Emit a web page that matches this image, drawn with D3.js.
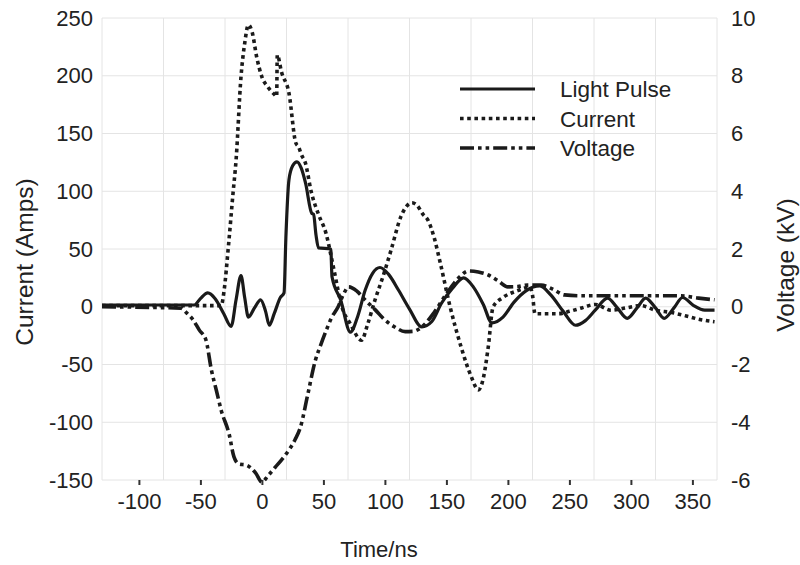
<!DOCTYPE html>
<meta charset="utf-8">
<style>
body { margin: 0; background: #fff; }
text { font-family: "Liberation Sans", Arial, sans-serif; fill: #222; }
.grid line { stroke: #e4e4e4; stroke-width: 1; }
.series { fill: none; stroke: #1a1a1a; }
</style>
<svg id="svg" width="800" height="565"></svg>
<script src="https://d3js.org/d3.v7.min.js"></script>
<script>
// light pulse (plotted on current axis)
var lightT = [-130, -100, -70, -55, -50, -44, -38, -31, -25, -21, -17, -14, -11, -6, -1, 3, 6, 10, 15, 18, 19.5, 22, 25, 28.5, 32, 35.5, 40.5, 42, 44, 46, 56, 57, 64, 72, 78, 84, 90, 96, 103, 111, 120, 130, 138, 146, 155, 164, 172, 180, 187, 196, 205, 215, 226, 235, 245, 255, 263, 271, 281, 289, 297, 305, 312, 320, 327, 335, 342, 351, 360, 368];
var lightI = [1.5, 1.5, 1.5, 1.5, 7, 12, 7, -6, -17, 6, 27, 8, -9, -1, 6, -4, -16, -6, 8, 12, 60, 110, 122, 125.5, 120, 107, 81, 80, 62, 51, 50, 26, 6, -22, -8, 14.5, 29, 34, 28, 14.5, -2, -17.5, -13, 3, 16, 25, 17, 2, -14, -9, 4, 14, 18, 10, -4, -16, -12, -3, 7.5, -1, -10, -1, 7.5, -1, -10, -1, 8, 1, -3, -3];

// current, Amps
var currT = [-130, -60, -33, -31, -27, -23.5, -21, -17, -14, -11, -8, -4, 0, 5, 10, 12, 12.5, 16, 22, 27.5, 30, 32, 35.5, 40, 46, 52, 58, 65, 72, 81, 86, 92, 99, 105, 113, 122, 126, 131, 135, 140, 145, 153, 162, 170, 176, 180, 184, 188, 196, 208, 218, 220, 222, 232, 241, 250, 260, 271, 284, 296, 308, 320, 333, 345, 356, 368];
var currI = [1, 1, 1, 12, 55, 98, 127, 199, 228, 244, 238, 215, 199, 190, 184, 182, 218, 203, 185, 142, 138, 132, 124, 100, 80, 64, 35, 0, -15, -29, -15, 6, 28, 49, 78, 90, 88, 80, 75, 60, 38, 0, -35, -60, -72, -62, -35, 0, 8, 14, 17, 10, -6, -6, -6, -4, -1, 2, -3, -1, 1, -3, -5, -8, -11, -13];

// voltage, kV (right axis)
var voltT = [-130, -66, -61, -56, -51, -45.5, -41, -37, -33, -26.7, -22.7, -18.6, -13, -5, 0, 5, 11, 16, 22, 27, 31.5, 37, 43.5, 48, 52, 57, 62, 66, 70.5, 77, 84, 92, 100, 108, 116.5, 123, 130, 140, 150, 160, 168, 176, 184, 192, 200, 208, 216, 227, 236, 246, 260, 280, 300, 320, 340, 355, 368];
var voltV = [0, -0.05, -0.22, -0.45, -0.8, -1.15, -2.2, -2.9, -3.6, -4.4, -5.2, -5.45, -5.48, -5.76, -6.07, -5.85, -5.55, -5.3, -4.96, -4.6, -4.15, -3.1, -1.85, -1.3, -0.85, -0.35, 0.0, 0.4, 0.69, 0.55, 0.23, -0.1, -0.46, -0.7, -0.86, -0.85, -0.7, -0.2, 0.45, 1.0, 1.24, 1.2, 1.1, 0.9, 0.69, 0.7, 0.75, 0.75, 0.62, 0.41, 0.38, 0.38, 0.38, 0.38, 0.38, 0.3, 0.24];

var xTicks = [-100, -50, 0, 50, 100, 150, 200, 250, 300, 350];
var xGrid = [-130, -80, -30, 20, 70, 120, 170, 220, 270, 320, 370];
var leftTicks = [-150, -100, -50, 0, 50, 100, 150, 200, 250];
var rightTicks = [-6, -4, -2, 0, 2, 4, 6, 8, 10];
var legendNames = ["Light Pulse", "Current", "Voltage"];

var svg = d3.select("svg"),
    margin = {top: 18, right: 83, bottom: 85, left: 102},
    width = +svg.attr("width") - margin.left - margin.right,
    height = +svg.attr("height") - margin.top - margin.bottom;

var x = d3.scaleLinear().domain([-130, 370]).range([0, width]),
    yL = d3.scaleLinear().domain([-150, 250]).range([height, 0]),
    yR = d3.scaleLinear().domain([-6, 10]).range([height, 0]);

// plain hyphen for negatives, like the original
var fmt = function(d) { return String(d); };

var g = svg.append("g")
    .attr("transform", "translate(" + margin.left + "," + margin.top + ")");

// grid
var grid = g.append("g").attr("class", "grid");
grid.selectAll(".gx").data(xGrid).enter().append("line")
    .attr("x1", function(d) { return x(d); })
    .attr("x2", function(d) { return x(d); })
    .attr("y1", 0).attr("y2", height);
grid.selectAll(".gy").data(leftTicks).enter().append("line")
    .attr("x1", 0).attr("x2", width)
    .attr("y1", function(d) { return yL(d); })
    .attr("y2", function(d) { return yL(d); });

// x axis
var xa = g.append("g")
    .attr("transform", "translate(0," + height + ")")
    .call(d3.axisBottom(x).tickValues(xTicks).tickFormat(fmt).tickSize(5).tickPadding(8));
xa.select(".domain").remove();
xa.selectAll("line").attr("stroke", "#333").attr("stroke-width", 2);
xa.selectAll("text").attr("font-size", 22).attr("fill", "#222");

// left axis
var la = g.append("g")
    .call(d3.axisLeft(yL).tickValues(leftTicks).tickFormat(fmt).tickSize(0).tickPadding(9));
la.select(".domain").remove();
la.selectAll("text").attr("font-size", 22).attr("fill", "#222");

// right axis
var ra = g.append("g")
    .attr("transform", "translate(" + width + ",0)")
    .call(d3.axisRight(yR).tickValues(rightTicks).tickFormat(fmt).tickSize(0).tickPadding(14));
ra.select(".domain").remove();
ra.selectAll("text").attr("font-size", 22).attr("fill", "#222");

// titles
svg.append("text")
    .attr("transform", "translate(33,262) rotate(-90)")
    .attr("text-anchor", "middle")
    .attr("font-size", 24.5)
    .text("Current (Amps)");
svg.append("text")
    .attr("transform", "translate(794,265) rotate(-90)")
    .attr("text-anchor", "middle")
    .attr("font-size", 24.5)
    .text("Voltage (kV)");
svg.append("text")
    .attr("x", 379).attr("y", 557)
    .attr("text-anchor", "middle")
    .attr("font-size", 22)
    .text("Time/ns");

var styles = [
  {w: 3.2, dash: null},
  {w: 3.6, dash: "3.6,3.6"},
  {w: 3.6, dash: "14,4,3.6,4,3.6,4"}
];

var lineL = d3.line()
    .x(function(d) { return x(d[0]); })
    .y(function(d) { return yL(d[1]); })
    .curve(d3.curveMonotoneX);
var lineR = d3.line()
    .x(function(d) { return x(d[0]); })
    .y(function(d) { return yR(d[1]); })
    .curve(d3.curveMonotoneX);

var series = [
  {path: lineL(d3.zip(lightT, lightI)), s: styles[0]},
  {path: lineL(d3.zip(currT, currI)), s: styles[1]},
  {path: lineR(d3.zip(voltT, voltV)), s: styles[2]}
];

series.forEach(function(d) {
  g.append("path")
    .attr("class", "series")
    .attr("d", d.path)
    .attr("stroke-width", d.s.w)
    .attr("stroke-dasharray", d.s.dash);
});

// legend
var lg = svg.append("g").attr("transform", "translate(460,89)");
legendNames.forEach(function(name, i) {
  var row = lg.append("g").attr("transform", "translate(0," + (i * 29.5) + ")");
  row.append("line")
    .attr("class", "series")
    .attr("x1", 0).attr("x2", 75)
    .attr("stroke-width", styles[i].w)
    .attr("stroke-dasharray", styles[i].dash);
  row.append("text")
    .attr("x", 100).attr("y", 8)
    .attr("font-size", 22.5)
    .text(name);
});
</script>
